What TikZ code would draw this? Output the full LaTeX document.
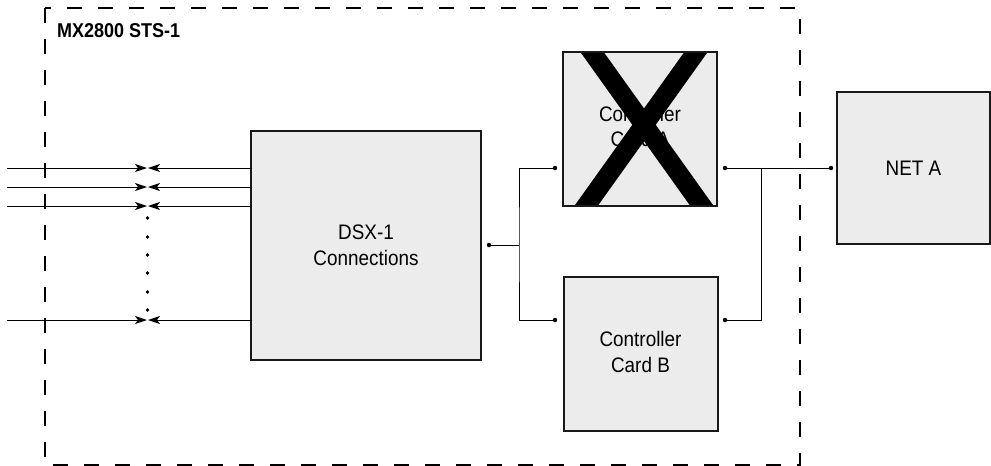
\documentclass[tikz,border=0pt]{standalone}
\usepackage{fontspec}
\setmainfont{Liberation Sans}[FakeStretch=0.9]
\usetikzlibrary{arrows.meta}
\definecolor{boxgray}{HTML}{ECECEC}
\begin{document}
\begin{tikzpicture}[x=1pt,y=-1pt,
  box/.style={draw=black!90, line width=2pt, fill=boxgray, minimum width=154pt, minimum height=154pt, inner sep=0pt, outer sep=0pt, font=\fontsize{21}{25.5}\selectfont, align=center},
  dot/.style={circle, fill=black, inner sep=0pt, minimum size=4.5pt},
  smalldot/.style={circle, fill=black, inner sep=0pt, minimum size=3.6pt},
  conn/.style={line width=1pt},
  frame/.style={line width=1.8pt, dash pattern=on 15pt off 16pt},
  arr/.style={-{Stealth[length=12pt,width=8pt,inset=3pt]}}]
\useasboundingbox (0,0) rectangle (991,466);
\draw[frame] (45,8) rectangle (800,465);
\node[anchor=base west, inner sep=0pt, font=\bfseries\fontsize{20}{22}\selectfont] (title) at (57,37) {MX2800 STS-1};
% boxes
\node[box, minimum width=230pt, minimum height=229pt] (dsx) at (366,245.5) {DSX-1\\Connections};
\node[box] (ca) at (640,129) {};
\node[font=\fontsize{21}{25.5}\selectfont, align=center, inner sep=0pt] (catext) at (640,126.5) {Controller\\Card A};
\node[box] (cb) at (640.5,354) {};
\node[font=\fontsize{21}{25.5}\selectfont, align=center, inner sep=0pt] (cbtext) at (640.5,352) {Controller\\Card B};
\node[box, minimum width=153pt, minimum height=152pt] (net) at (913.5,168) {NET A};
% cross on card A
\begin{scope}
  \clip (ca.south west) rectangle (ca.north east);
  \draw[line width=19pt] (581,36.6) -- (713,221.4);
  \draw[line width=19pt] (707,36.6) -- (575,221.4);
\end{scope}
\draw[draw=black!90, line width=2pt] (ca.south west) rectangle (ca.north east);
% left lines
\foreach \y/\n in {168/a,187/b,206/c,320/d}{
  \coordinate (l\n) at (7,\y);
  \coordinate (m\n) at (147,\y);
  \coordinate (r\n) at (148,\y);
  \draw[conn, arr] (l\n) -- (m\n);
  \draw[conn, arr] (dsx.west |- r\n) -- (r\n);
}
\foreach \y [count=\i] in {218,237,255,273,292,310}{
  \node[smalldot] (v\i) at (147.5,\y) {};
}
% connections to cards
\node[dot] (d0) at (489,245) {};
\node[dot] (d1) at (555,168) {};
\node[dot] (d2) at (555,320) {};
\coordinate (j1) at (519,245);
\draw[conn] (d1.center) -| (j1) |- (d2.center);
\draw[conn] (d0.center) -- (j1);
\node[dot] (d3) at (725,168) {};
\node[dot] (d4) at (725,320) {};
\node[dot] (d5) at (831,168) {};
\coordinate (j2) at (761,168);
\draw[conn] (d3.center) -- (d5.center);
\draw[conn] (j2) |- (d4.center);
\end{tikzpicture}
\end{document}
